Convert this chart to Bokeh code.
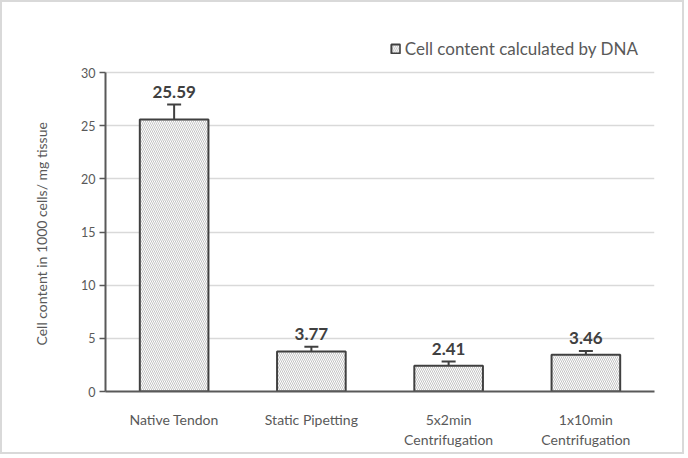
from bokeh.plotting import figure
from bokeh.models import (ColumnDataSource, Whisker, TeeHead, Range1d, FactorRange,
                          FixedTicker, Legend, LegendItem, Title)
from bokeh.core.properties import value
from bokeh.embed import file_html
from bokeh.resources import INLINE

categories = ["Native Tendon", "Static Pipetting", "5x2min\nCentrifugation", "1x10min\nCentrifugation"]
cell_content = [25.59, 3.77, 2.41, 3.46]
errors = [1.4, 0.45, 0.41, 0.35]
value_labels = ["25.59", "3.77", "2.41", "3.46"]
y_ticks = [0, 5, 10, 15, 20, 25, 30]
series_name = "Cell content calculated by DNA"
y_title = "Cell content in 1000 cells/ mg tissue"

upper = [v + e for v, e in zip(cell_content, errors)]
src = ColumnDataSource(dict(cat=categories, val=cell_content, upper=upper, lab=value_labels))

FONT = "Lato"
TXT = "#595959"
DARK = "#404040"
B = 2  # css border width around the whole chart

W, H = 688 - 2 * B, 458 - 2 * B
# axis spans 0..30 over 319 px; the frame extends higher to hold the legend
Y_AXIS_MAX = 30
FRAME_TOP, FRAME_BOTTOM = 22 - B, 391 - B
y_end = Y_AXIS_MAX * (FRAME_BOTTOM - FRAME_TOP) / 319.0

p = figure(x_range=FactorRange(*categories), y_range=Range1d(0, y_end),
           width=W, height=H, output_backend="svg", toolbar_location=None,
           min_border_left=102 - B, min_border_right=W - (654 - B),
           min_border_top=FRAME_TOP, min_border_bottom=H - FRAME_BOTTOM,
           styles={"border": f"{B}px solid #d9d9d9"})
p.outline_line_color = None
p.xgrid.grid_line_color = None
p.ygrid.grid_line_color = "#d9d9d9"
p.ygrid.grid_line_width = 1.5

bars = p.vbar(x="cat", top="val", width=0.5, source=src, fill_color="white",
              hatch_pattern="\\", hatch_color="#c4c4c4", hatch_scale=4, hatch_weight=1,
              line_color=DARK, line_width=2)

wh = Whisker(base="cat", upper="upper", lower="val", source=src,
             upper_head=TeeHead(size=14, line_color=DARK, line_width=2),
             lower_head=None, line_color=DARK, line_width=2)
p.add_layout(wh)

p.text(x="cat", y="upper", text="lab", source=src, text_align="center",
       text_baseline="bottom", y_offset=-7, text_font=value(FONT),
       text_font_style="bold", text_font_size="17px", text_color=DARK)

p.yaxis.ticker = FixedTicker(ticks=y_ticks)
p.yaxis.bounds = (0, Y_AXIS_MAX)
p.yaxis.axis_line_color = TXT
p.yaxis.axis_line_width = 2
p.yaxis.major_tick_line_color = TXT
p.yaxis.major_tick_line_width = 1.5
p.yaxis.major_tick_out = 6
p.yaxis.major_tick_in = 0
p.yaxis.minor_tick_line_color = None
p.yaxis.major_label_text_font = FONT
p.yaxis.major_label_text_font_size = "12.5px"
p.yaxis.major_label_text_color = TXT
p.yaxis.major_label_standoff = 4

ytitle = Title(text=y_title, align="left", offset=46, standoff=57,
               text_font=FONT, text_font_size="14px", text_font_style="normal",
               text_color=TXT)
p.add_layout(ytitle, "left")

p.xaxis.axis_line_color = TXT
p.xaxis.axis_line_width = 2
p.xaxis.major_tick_line_color = None
p.xaxis.minor_tick_line_color = None
p.xaxis.major_label_text_font = FONT
p.xaxis.major_label_text_font_size = "14px"
p.xaxis.major_label_text_color = TXT
p.xaxis.major_label_standoff = 13

lg = Legend(items=[LegendItem(label=series_name, renderers=[bars])],
            location="top_right", orientation="vertical",
            padding=0, margin=16, border_line_alpha=0, background_fill_alpha=0,
            glyph_width=11, glyph_height=11, label_height=17, label_standoff=4,
            label_text_font=FONT, label_text_font_size="17px", label_text_color=TXT)
p.add_layout(lg)

open("out.html", "w").write(file_html(p, INLINE))
